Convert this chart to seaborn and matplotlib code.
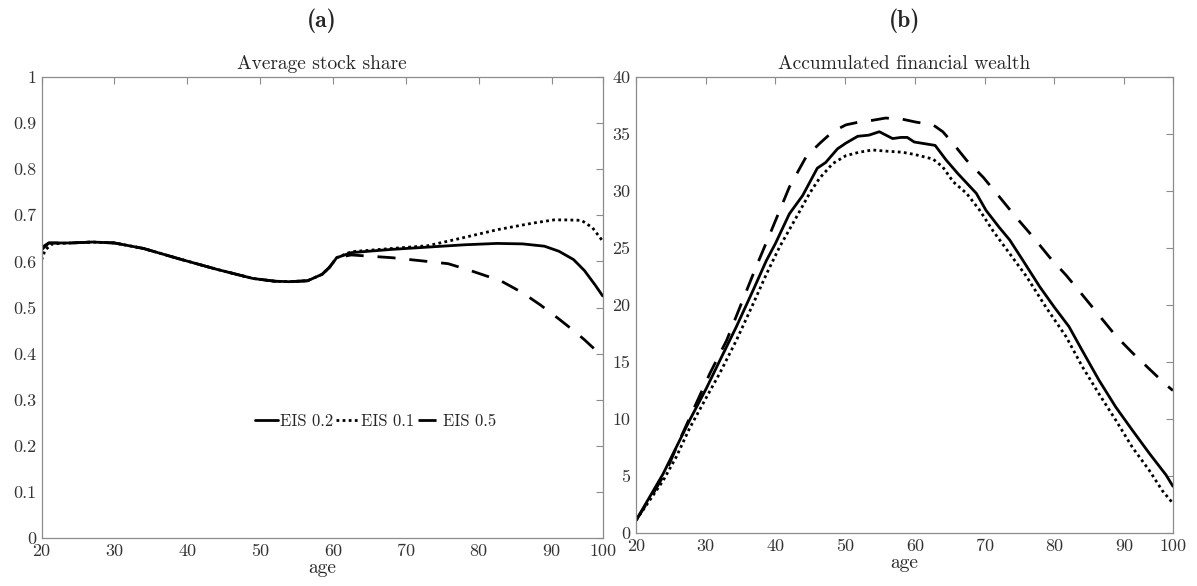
import numpy as np
import pandas as pd
import seaborn as sns
from matplotlib import pyplot as plt

# panel (a): average stock share
age_a_02 = [20, 21, 24, 27, 30, 34, 39, 44, 49, 52, 54, 56.5, 58.5, 59.5, 60.5, 62.5,
            68, 73, 78, 82.5, 86, 89, 91, 93, 94.5, 96, 97]
share_02 = [0.625, 0.64, 0.64, 0.642, 0.64, 0.628, 0.605, 0.583, 0.563, 0.557, 0.556, 0.558,
            0.572, 0.587, 0.608, 0.619, 0.626, 0.631, 0.636, 0.639, 0.638, 0.633, 0.622,
            0.604, 0.58, 0.548, 0.525]

age_a_01 = [20, 20.5, 21.5, 24, 27, 30, 34, 39, 44, 49, 52, 54, 56.5, 58.5, 59.5, 60.5, 62.5,
            68, 73, 77.75, 82.6, 87.4, 90.3, 92.2, 94.1, 95.6, 97]
share_01 = [0.603, 0.625, 0.638, 0.64, 0.642, 0.64, 0.628, 0.605, 0.583, 0.563, 0.557, 0.556,
            0.558, 0.572, 0.587, 0.608, 0.621, 0.628, 0.634, 0.651, 0.669, 0.683, 0.69,
            0.69, 0.689, 0.673, 0.644]

age_a_05 = [20, 21, 24, 27, 30, 34, 39, 44, 49, 52, 54, 56.5, 58.5, 59.5, 60.5, 62.5,
            68.1, 72.9, 75.8, 78.5, 83, 86, 88.5, 91, 93, 94.5, 96.0, 97]
share_05 = [0.63, 0.64, 0.64, 0.642, 0.64, 0.628, 0.605, 0.583, 0.563, 0.557, 0.556, 0.558,
            0.572, 0.587, 0.608, 0.614, 0.608, 0.60, 0.595, 0.582, 0.558, 0.532, 0.505,
            0.475, 0.45, 0.43, 0.408, 0.395]

# panel (b): accumulated financial wealth
age_b_02 = [20, 22, 23.9, 25.6, 27.7, 30.1, 32, 34.4, 36.8, 38.7, 40, 42, 43.9, 46, 47.2,
            48.9, 50.1, 51.8, 53.4, 54.9, 56.8, 58, 58.9, 59.9, 61.4, 62.9, 64.5, 66.2,
            68.8, 70.2, 72.1, 73.6, 75.5, 77.9, 80, 82.1, 84, 86.4, 88.8, 91.2, 93.6, 96, 97]
wealth_02 = [1.1, 3.2, 5.2, 7.3, 9.9, 12.7, 15.1, 18.1, 21.3, 23.9, 25.4, 28.0, 29.6, 32.0,
             32.5, 33.7, 34.2, 34.8, 34.9, 35.2, 34.6, 34.7, 34.7, 34.3, 34.15, 34.0, 32.7,
             31.5, 29.8, 28.3, 26.8, 25.7, 23.9, 21.6, 19.8, 18.1, 16.0, 13.4, 11.05, 9.0,
             7.0, 5.1, 4.1]

age_b_01 = [20, 22, 23.9, 25.8, 27.7, 30.1, 32, 34.4, 36.8, 38.7, 40.6, 43, 44.9, 46.3, 48.2,
            50.1, 52, 53.9, 55.8, 58.2, 60, 62.6, 64, 65.5, 67.4, 69.3, 71.2, 73.6, 76,
            78.8, 81.7, 84, 86.4, 88.8, 91.2, 93.6, 95.5, 97]
wealth_01 = [1.1, 2.9, 4.6, 6.7, 9.2, 11.9, 14.0, 16.9, 20.1, 22.7, 25.1, 27.7, 29.8, 31.1,
             32.4, 33.1, 33.4, 33.6, 33.5, 33.4, 33.2, 32.8, 32.1, 30.8, 29.8, 28.3, 26.5,
             24.5, 22.5, 19.8, 17.2, 14.6, 12.2, 9.9, 7.5, 5.5, 3.7, 2.6]

age_b_05 = [20, 22.5, 24.4, 26, 28.4, 30.6, 33, 34.9, 37.2, 39.6, 42, 44.4, 46.3, 48.2, 50.1,
            52, 53.9, 55.8, 58.2, 60.1, 62.6, 64, 65.5, 67.4, 69.8, 72.1, 74.5, 76.9, 79.3,
            81.7, 84, 86.4, 88.8, 91.2, 93.6, 96, 97]
wealth_05 = [1.1, 3.5, 5.5, 7.8, 11.05, 14.0, 16.9, 19.8, 23.3, 26.8, 30.35, 33.0, 34.15,
             35.2, 35.8, 36.05, 36.2, 36.4, 36.3, 36.05, 35.8, 35.2, 34.15, 32.7, 31.2, 29.5,
             27.7, 26.0, 24.2, 22.6, 20.9, 19.1, 17.3, 15.8, 14.4, 13.0, 12.5]

# the last tick sits on the right edge of the axis and is labelled 100
xtick_pos = [20, 30, 40, 50, 60, 70, 80, 90, 97]
xtick_labels = ['20', '30', '40', '50', '60', '70', '80', '90', '100']
ytick_a = [0, 0.1, 0.2, 0.3, 0.4, 0.5, 0.6, 0.7, 0.8, 0.9, 1]
ytick_a_labels = ['0', '0.1', '0.2', '0.3', '0.4', '0.5', '0.6', '0.7', '0.8', '0.9', '1']
ytick_b = [0, 5, 10, 15, 20, 25, 30, 35, 40]

sns.set_style('white')
plt.rcParams['font.family'] = ['cmr10', 'DejaVu Serif']
plt.rcParams['axes.unicode_minus'] = False

fig = plt.figure(figsize=(11.97, 5.86), dpi=100)
ax1 = fig.add_axes([0.0347, 0.0819, 0.4688, 0.7867])
ax2 = fig.add_axes([0.5313, 0.0904, 0.4486, 0.7782])

lw = 2.0
dot = (0, (1.0, 1.2))
dash = (0, (6.5, 5))

sns.lineplot(x=age_a_02, y=share_02, ax=ax1, color='black', lw=lw, label='EIS 0.2')
sns.lineplot(x=age_a_01, y=share_01, ax=ax1, color='black', lw=lw, linestyle=dot, label='EIS 0.1')
sns.lineplot(x=age_a_05, y=share_05, ax=ax1, color='black', lw=lw, linestyle=dash, label='EIS 0.5')

sns.lineplot(x=age_b_02, y=wealth_02, ax=ax2, color='black', lw=lw)
sns.lineplot(x=age_b_01, y=wealth_01, ax=ax2, color='black', lw=lw, linestyle=dot)
sns.lineplot(x=age_b_05, y=wealth_05, ax=ax2, color='black', lw=lw, linestyle=dash)

for ax in (ax1, ax2):
    ax.set_xlim(20, 97)
    ax.set_xticks(xtick_pos)
    ax.set_xticklabels(xtick_labels)
    ax.set_xlabel('age', fontsize=14, labelpad=0)
    ax.tick_params(direction='in', length=5, width=0.8, color='#8c8c8c', labelcolor='#333333',
                   labelsize=13, top=True, right=True, pad=4)
    for s in ax.spines.values():
        s.set_color('#8c8c8c')
        s.set_linewidth(0.9)

ax1.set_ylim(0, 1)
ax1.set_yticks(ytick_a)
ax1.set_yticklabels(ytick_a_labels)
ax1.set_title('Average stock share', fontsize=14, pad=6)

ax2.set_ylim(0, 40)
ax2.set_yticks(ytick_b)
ax2.set_yticklabels([str(v) for v in ytick_b])
ax2.set_title('Accumulated financial wealth', fontsize=14, pad=6)

ax1.legend(loc='center', bbox_to_anchor=(0.595, 0.254), ncol=3, frameon=False, fontsize=12,
           handlelength=1.4, handletextpad=0.1, columnspacing=0.2)

fig.text(0.269, 0.965, '(a)', family='cmb10', fontsize=17, ha='center', va='center')
fig.text(0.756, 0.965, '(b)', family='cmb10', fontsize=17, ha='center', va='center')

fig.savefig('out.png', dpi=100)
